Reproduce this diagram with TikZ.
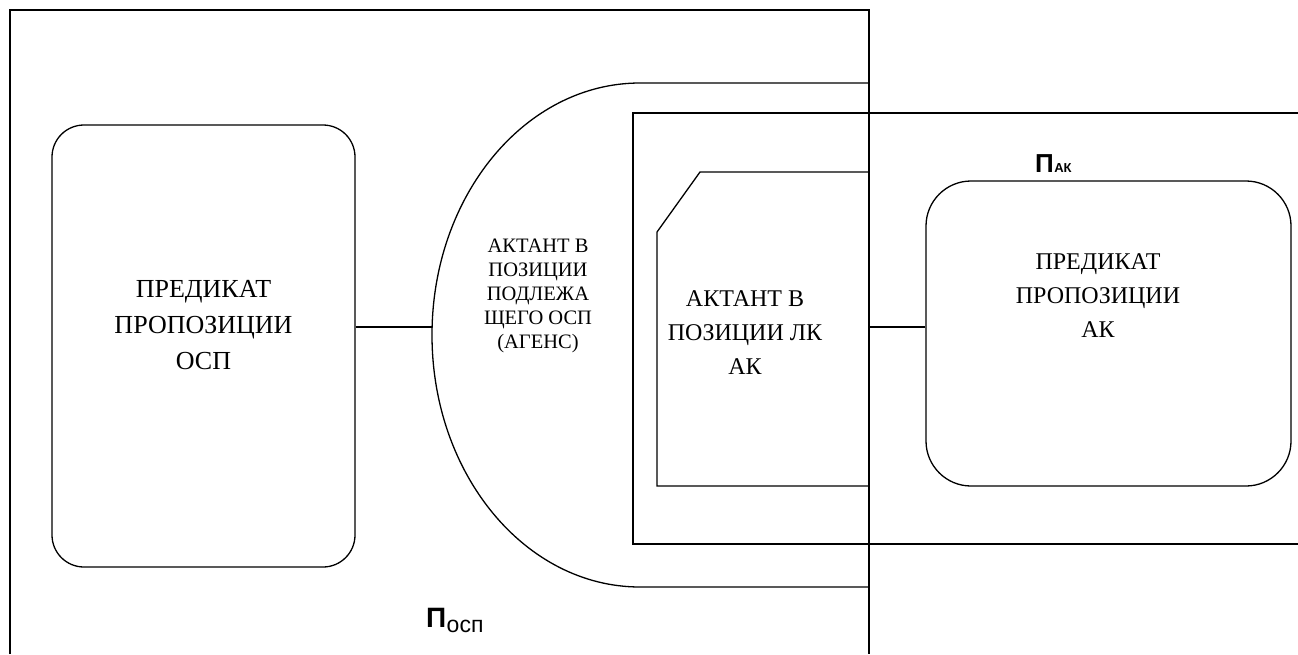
\documentclass[tikz,border=0pt]{standalone}
\usepackage{fontspec}
\setmainfont{Liberation Serif}
\newfontfamily\labelfont{Liberation Sans}
\begin{document}
\begin{tikzpicture}[x=1pt,y=-1pt,
  line/.style={line width=1.3pt, black},
  predbox/.style={draw, line width=1.3pt, rectangle, inner sep=0pt},
  bigtext/.style={align=center, font=\fontsize{26}{36}\selectfont, inner sep=0pt},
  midtext/.style={align=center, font=\fontsize{24}{34}\selectfont, inner sep=0pt},
  smalltext/.style={align=center, font=\fontsize{20.5}{24}\selectfont, inner sep=0pt},
  tag/.style={inner sep=0pt, anchor=base west}
]
\useasboundingbox (0,0) rectangle (1298,654);

% outer frame of the ОСП proposition, open at the bottom
\draw[line] (10,654) -- (10,10) -- (869,10) -- (869,654);

% half-oval holding the agent actant
\draw[line] (869,83) -- (640,83) arc[start angle=270, end angle=90, x radius=208, y radius=252] -- (869,587);
\coordinate (agensW) at (432,327);

% frame of the АК proposition, open at the right
\draw[line] (1298,113) -- (633,113) -- (633,544) -- (1298,544);

% chamfered box of the actant in the ЛК position
\draw[line] (869,172) -- (700,172) -- (657,232) -- (657,486) -- (869,486);
\coordinate (lkE) at (869,327);

% predicate boxes
\node[predbox, rounded corners=32pt, minimum width=303pt, minimum height=442pt] (predosp) at (203.5,346) {};
\node[predbox, rounded corners=45pt, minimum width=365pt, minimum height=305pt] (predak) at (1108.5,333.5) {};

% connectors
\draw[line] (predosp.east |- agensW) -- (agensW);
\draw[line] (lkE) -- (predak.west |- lkE);

% texts
\node[bigtext] (tosp) at (203.5,325) {ПРЕДИКАТ\\ПРОПОЗИЦИИ\\ОСП};
\node[smalltext] (tagens) at (538,296) {АКТАНТ В\\ПОЗИЦИИ\\ПОДЛЕЖА\\ЩЕГО ОСП\\(АГЕНС)};
\node[midtext] (tlk) at (745,333) {АКТАНТ В\\ПОЗИЦИИ ЛК\\АК};
\node[midtext] (tak) at (1098,296) {ПРЕДИКАТ\\ПРОПОЗИЦИИ\\АК};

% proposition labels
\node[tag, font=\labelfont\bfseries\fontsize{26}{26}\selectfont] (pak) at (1035,172) {П};
\node[tag, font=\labelfont\bfseries\fontsize{13}{13}\selectfont] (pakS) at (pak.base east) {АК};
\node[tag, font=\labelfont\bfseries\fontsize{28}{28}\selectfont] (posp) at (426,627) {П};
\node[tag, font=\labelfont\fontsize{23}{23}\selectfont, yshift=-5pt] (pospS) at (posp.base east) {осп};
\end{tikzpicture}
\end{document}
